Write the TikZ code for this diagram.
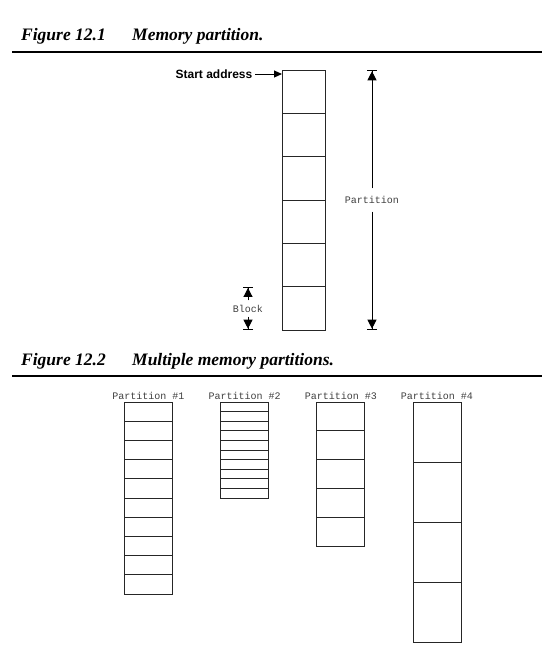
\documentclass[tikz,border=0pt]{standalone}
\usepackage{fontspec}
\setmainfont{Liberation Serif}
\setmonofont{Liberation Mono}
\newfontfamily\helv{Liberation Sans}
\usepackage{tikz}
\usetikzlibrary{arrows.meta, positioning}

\begin{document}
\begin{tikzpicture}[
    x=1pt, y=-1pt,
    blk/.style={rectangle, draw=black!85, line width=0.9pt, outer sep=0pt, inner sep=0pt},
    figtitle/.style={anchor=base west, inner sep=0pt, font=\fontsize{17.5}{20}\selectfont\bfseries\itshape},
    plabel/.style={font=\ttfamily\fontsize{10}{12}\selectfont, text=black!75, inner sep=0pt},
    rule/.style={line width=1.4pt},
    ptr/.style={-{Triangle[length=8pt, width=7pt, sep=0pt]}, line width=1pt},
    dimarrow/.style={-{Triangle[length=9pt, width=9pt, sep=0pt]Bar[width=10pt, line width=1.3pt, sep=0pt]}, line width=1pt},
]
    \useasboundingbox (0,0) rectangle (542,657);

    % Figure 12.1
    \node[figtitle] (fig1) at (21,40.7) {Figure 12.1};
    \node[figtitle] (cap1) at (132,40.7) {Memory partition.};
    \coordinate (r1a) at (12,52);
    \coordinate (r1b) at (542,52);
    \draw[rule] (r1a) -- (r1b);

    % Single partition
    \foreach \i in {1,...,6}
        \node[blk, minimum width=43pt, minimum height=43.33pt] (b\i) at (303.5,{70+(\i-0.5)*43.33}) {};

    \node[font=\helv\bfseries\fontsize{12}{14}\selectfont, anchor=east, inner sep=2.5pt] (start) at (255,74) {Start address};
    \draw[ptr] (start.east) -- (start.east -| b1.west);

    \node[plabel, fill=white, minimum height=23pt] (part) at (372,200) {Partition};
    \draw[dimarrow] (part.north) -- (part.north |- b1.north);
    \draw[dimarrow] (part.south) -- (part.south |- b6.south);

    \node[plabel, minimum height=16pt] (block) at (248,308.5) {Block};
    \draw[dimarrow] (block.north) -- (block.north |- b6.north);
    \draw[dimarrow] (block.south) -- (block.south |- b6.south);

    % Figure 12.2
    \node[figtitle] (fig2) at (21,365) {Figure 12.2};
    \node[figtitle] (cap2) at (132,365) {Multiple memory partitions.};
    \coordinate (r2a) at (12,376);
    \coordinate (r2b) at (542,376);
    \draw[rule] (r2a) -- (r2b);

    % Multiple partitions
    \foreach \n/\cx/\cnt/\h in {1/148.3/10/19.2, 2/244.7/10/9.6, 3/340.8/5/28.8, 4/437/4/60} {
        \foreach \i in {1,...,\cnt}
            \node[blk, minimum width=48pt, minimum height={\h*1pt}] (p\n-\i) at (\cx,{402+(\i-0.5)*\h}) {};
        \node[plabel, above=2.5pt of p\n-1] (lab\n) {Partition \#\n};
    }
\end{tikzpicture}
\end{document}
